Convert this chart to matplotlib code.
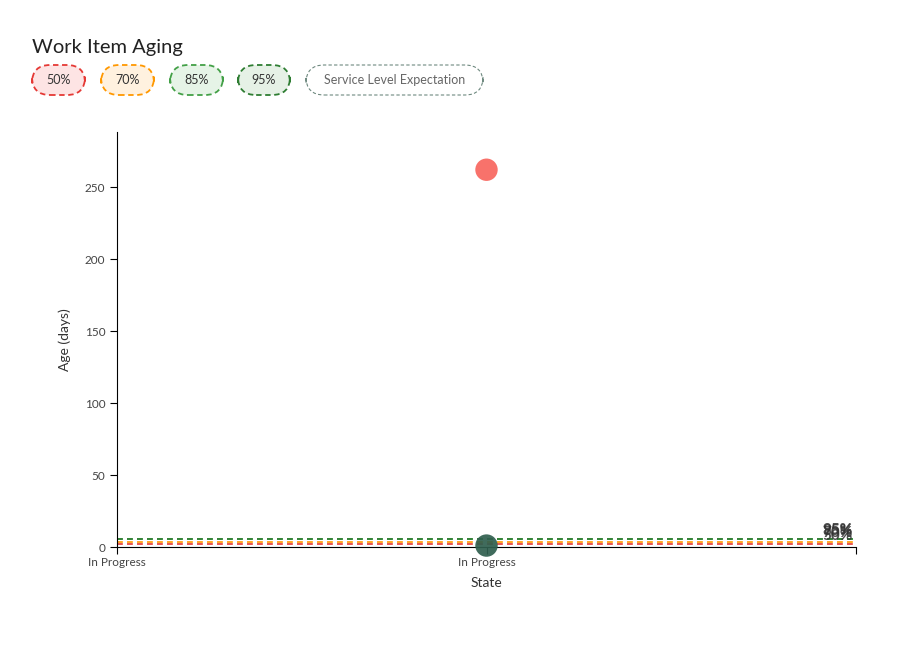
import matplotlib.pyplot as plt
from matplotlib.patches import FancyBboxPatch

plt.rcParams['font.family'] = ['Lato', 'DejaVu Sans']

# data
item_x = [1, 1]
item_age = [262, 1]
item_colors = ["#f8665e", "#2f5e4e"]

percentiles = ["50%", "70%", "85%", "95%"]
pct_values = [2.0, 3.7, 5.3, 5.6]
pct_colors = ["#e53935", "#ff9800", "#43a047", "#2e7d32"]
pct_fills = ["#fde4e4", "#fff1df", "#e6f4e7", "#e6f1e6"]

x_ticks = [0, 1, 2]
x_labels = ["In Progress", "In Progress", ""]
y_ticks = [0, 50, 100, 150, 200, 250]

W, H = 908, 652
fig = plt.figure(figsize=(W / 100, H / 100), dpi=100)
fig.patch.set_facecolor("white")

ax = fig.add_axes([117 / W, 1 - 547 / H, (856 - 117) / W, (547 - 132) / H])
ax.set_xlim(0, 2)
ax.set_ylim(0, max(item_age) * 1.1)

for val, col in zip(pct_values, pct_colors):
    ax.axhline(val, color=col, lw=1.2, ls=(0, (3.5, 2.5)), zorder=2)
for lab, val in zip(percentiles, pct_values):
    ax.text(1.99, val + 1.0, lab, ha="right", va="bottom", fontsize=11,
            fontweight="bold", color="#333333", alpha=0.85, zorder=3)

ax.scatter(item_x, item_age, s=260, c=item_colors, alpha=0.92, zorder=4,
           edgecolors="none", clip_on=False)

ax.set_xticks(x_ticks)
ax.set_xticklabels(x_labels, fontsize=8.5, color="#444444")
ax.set_yticks(y_ticks)
ax.tick_params(axis="y", labelsize=8.5, labelcolor="#444444", length=5)
ax.tick_params(axis="x", length=5, pad=2)
for s in ["top", "right"]:
    ax.spines[s].set_visible(False)
ax.set_xlabel("State", fontsize=10, color="#333333", labelpad=7)
ax.set_ylabel("Age (days)", fontsize=10, color="#333333", labelpad=10)

fig.text(32 / W, 1 - 48 / H, "Work Item Aging", fontsize=14.5, color="#222222",
         va="center", ha="left")

# legend pills
pills = [(32, 85), (101, 154), (170, 223), (238, 290)]
y0, y1 = 65, 95
for (l, r), lab, col, fill in zip(pills, percentiles, pct_colors, pct_fills):
    p = FancyBboxPatch((l / W, 1 - y1 / H), (r - l) / W, (y1 - y0) / H,
                       boxstyle="round,pad=0,rounding_size=0.02",
                       transform=fig.transFigure, facecolor=fill, edgecolor=col,
                       lw=1.3, ls=(0, (3, 2)), mutation_aspect=W / H)
    fig.patches.append(p)
    fig.text((l + r) / 2 / W, 1 - (y0 + y1) / 2 / H, lab, fontsize=9,
             color="#333333", ha="center", va="center")

l, r = 306, 483
p = FancyBboxPatch((l / W, 1 - y1 / H), (r - l) / W, (y1 - y0) / H,
                   boxstyle="round,pad=0,rounding_size=0.02",
                   transform=fig.transFigure, facecolor="white", edgecolor="#6f8a80",
                   lw=0.8, ls=(0, (3, 2)), mutation_aspect=W / H)
fig.patches.append(p)
fig.text((l + r) / 2 / W, 1 - (y0 + y1) / 2 / H, "Service Level Expectation",
         fontsize=9, color="#666666", ha="center", va="center")

fig.savefig("out.png", dpi=100, facecolor="white")
